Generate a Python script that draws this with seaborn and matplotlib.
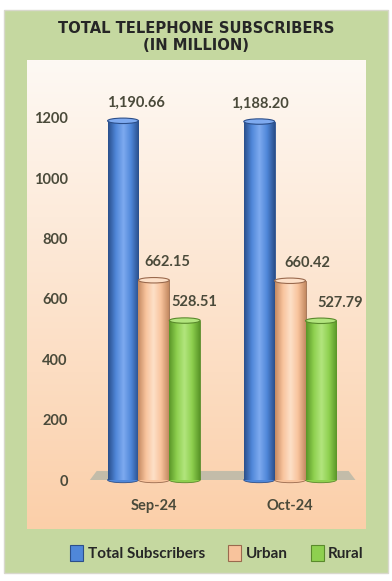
import numpy as np
import pandas as pd
import matplotlib
matplotlib.use("Agg")
import matplotlib.pyplot as plt
import seaborn as sns
from matplotlib.patches import Rectangle, Ellipse, Polygon
from matplotlib.colors import LinearSegmentedColormap, to_rgb

# ---- data ----
months = ["Sep-24", "Oct-24"]
series = ["Total Subscribers", "Urban", "Rural"]
total_vals = [1190.66, 1188.20]
urban_vals = [662.15, 660.42]
rural_vals = [528.51, 527.79]
yticks = [0, 200, 400, 600, 800, 1000, 1200]
title_text = "TOTAL TELEPHONE SUBSCRIBERS\n(IN MILLION)"

df = pd.DataFrame({
    "Month": months * 3,
    "Type": [series[0]] * 2 + [series[1]] * 2 + [series[2]] * 2,
    "Value": total_vals + urban_vals + rural_vals,
})

# ---- style ----
sns.set_theme(style="white")
plt.rcParams["font.family"] = ["Lato", "DejaVu Sans"]
face_cols = ["#4f87d9", "#f8c39c", "#8ed04f"]
edge_cols = ["#2c4f8a", "#9a6a4e", "#5a8a2c"]
dark_cols = ["#2a4f8c", "#c48a62", "#5a9628"]
light_cols = ["#7eaaf0", "#fde0c8", "#b2e57e"]
label_dx = [[13, 1], [13, 17], [10, 19]]  # px offsets of value labels
txt_col = "#4a4a3a"

W, H = 392, 581
fig = plt.figure(figsize=(W / 100, H / 100), dpi=100)
fig.patch.set_facecolor("white")

def fx(px):
    return px / W

def fy(py):
    return 1 - py / H

# green outer panel
fig.add_artist(Rectangle((fx(4), fy(573)), fx(384), (573 - 10) / H,
                         transform=fig.transFigure, facecolor="#c5d8a0",
                         edgecolor="#d8d8cc", lw=1, zorder=0))

# inner gradient panel
bg = fig.add_axes([fx(27), fy(529), fx(366 - 27), (529 - 60) / H], zorder=0)
top = np.array(to_rgb("#fef9f4"))
bot = np.array(to_rgb("#fbcfa9"))
t = np.linspace(0, 1, 256)[:, None]
grad = (top[None, :] * (1 - t) + bot[None, :] * t)[:, None, :]
bg.imshow(grad, aspect="auto", extent=[0, 1, 0, 1])
bg.set_axis_off()

# main axes
ax = fig.add_axes([fx(79), fy(480), fx(286), 362 / H], zorder=2)
ax.patch.set_alpha(0)

sns.barplot(data=df, x="Month", y="Value", hue="Type", hue_order=series,
            palette=face_cols, width=0.68, ax=ax, legend=False,
            edgecolor="none", saturation=1, zorder=3)

# floor
floor = Polygon([(-0.47, 0), (1.48, 0), (1.43, 30), (-0.42, 30)],
                closed=True, facecolor="#b9b9a8", edgecolor="none",
                alpha=0.85, zorder=1)
ax.add_patch(floor)

cap_h = 18
bars = [b for b in ax.patches if isinstance(b, Rectangle)]
for i, b in enumerate(bars):
    s = i // 2
    m = i % 2
    x, w, h = b.get_x(), b.get_width(), b.get_height()
    cmap = LinearSegmentedColormap.from_list(
        "c", [dark_cols[s], face_cols[s], light_cols[s], face_cols[s], dark_cols[s]])
    img = ax.imshow(np.linspace(0, 1, 64)[None, :], cmap=cmap, aspect="auto",
                    extent=[x, x + w, 0, h], zorder=3.1)
    img.set_clip_path(b)
    b.set_edgecolor(edge_cols[s])
    b.set_linewidth(0.6)
    ax.add_patch(Ellipse((x + w / 2, 0), w, cap_h, facecolor=face_cols[s],
                         edgecolor=edge_cols[s], lw=0.6, zorder=2.9, clip_on=False))
    ax.add_patch(Ellipse((x + w / 2, h), w, cap_h, facecolor=light_cols[s],
                         edgecolor=edge_cols[s], lw=0.8, zorder=3.5, clip_on=False))
    ax.annotate(f"{h:,.2f}", (x + w / 2, h), xytext=(label_dx[s][m] * 0.72, 8),
                textcoords="offset points", ha="center", va="bottom",
                fontsize=10.5, fontweight="bold", color=txt_col, zorder=5)

ax.set_xlim(-0.55, 1.55)
ax.set_ylim(0, 1200)
ax.set_yticks(yticks)
ax.set_yticklabels([str(v) for v in yticks])
ax.tick_params(axis="both", length=0, labelsize=10.5, labelcolor=txt_col)
ax.tick_params(axis="y", pad=8)
ax.tick_params(axis="x", pad=14)
for lab in ax.get_xticklabels() + ax.get_yticklabels():
    lab.set_fontweight("bold")
ax.set_xlabel("")
ax.set_ylabel("")
for sp in ax.spines.values():
    sp.set_visible(False)
ax.grid(False)

# title
fig.text(0.5, fy(37), title_text, ha="center", va="center",
         fontsize=10.6, fontweight="bold", color="#262626",
         family=["DejaVu Sans"], linespacing=1.2)

# legend
handles = [Rectangle((0, 0), 1, 1, facecolor=face_cols[k], edgecolor=edge_cols[k], lw=0.8)
           for k in range(3)]
fig.legend(handles, series, loc="center", bbox_to_anchor=(fx(217), fy(553)),
           ncol=3, frameon=False, handlelength=0.85,
           handleheight=1.2, handletextpad=0.3, columnspacing=1.5,
           prop={"weight": "bold", "size": 11})
for tx in fig.legends[0].get_texts():
    tx.set_color("#262626")

fig.savefig("out.png", dpi=100, facecolor="white")
